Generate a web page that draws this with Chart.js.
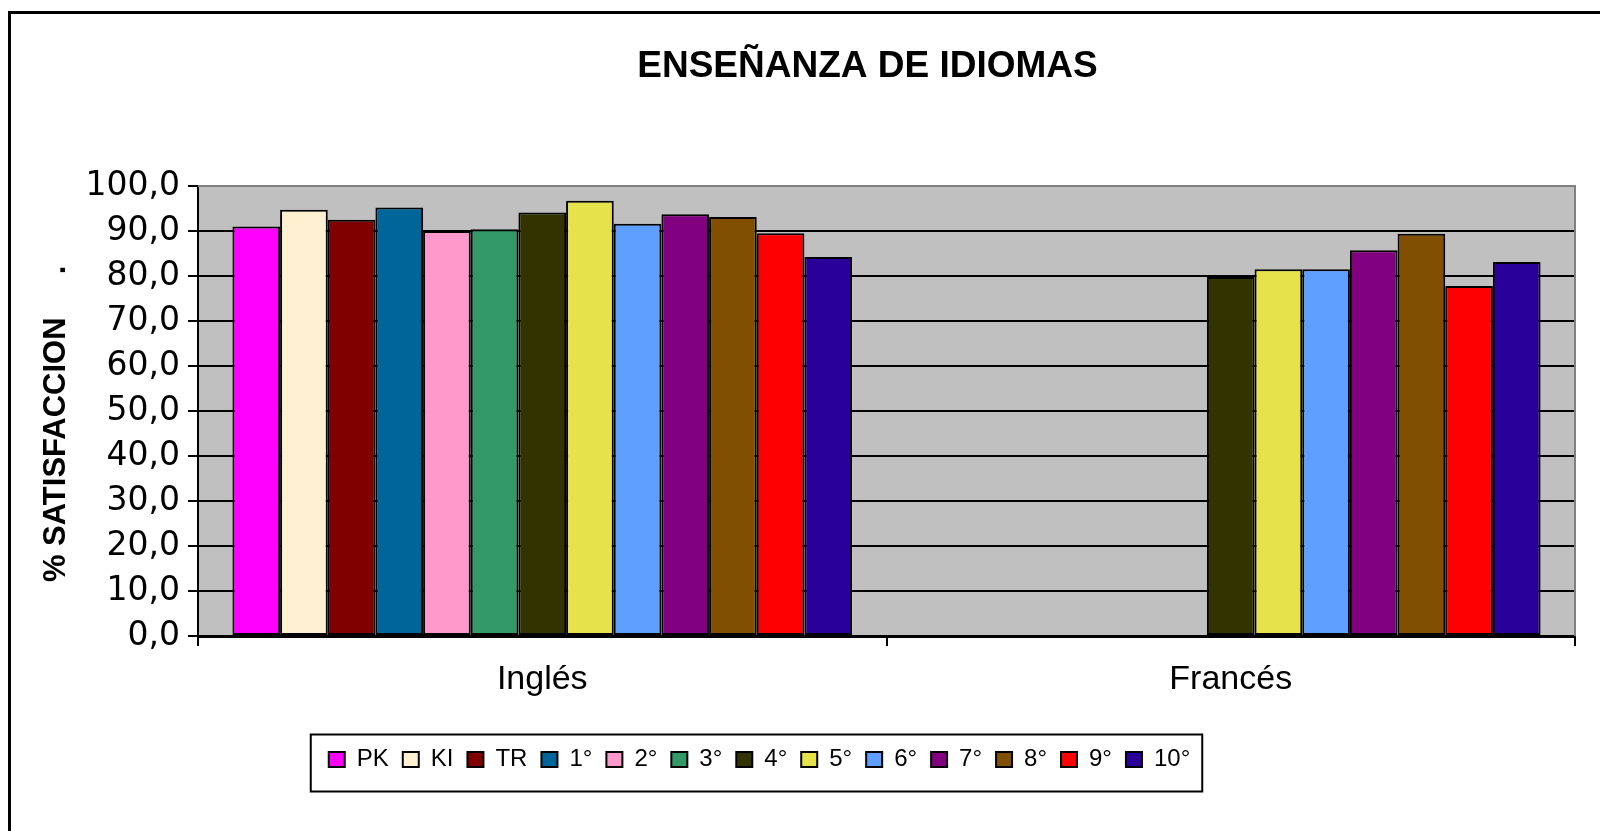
<!DOCTYPE html>
<html lang="es">
<head>
  <meta charset="UTF-8" />
  <title>Enseñanza de idiomas</title>
  <script src="https://cdn.jsdelivr.net/npm/chart.js"></script>
  <style>
    html, body {
      margin: 0;
      padding: 0;
      background: #ffffff;
      overflow: hidden;
    }

    .frame {
      position: absolute;
      left: 8px;
      top: 11px;
      width: 1700px;
      height: 900px;
      border: 3px solid #000;
    }

    .chart-box {
      position: absolute;
      left: 0;
      top: 0;
      width: 1600px;
      height: 831px;
    }
  </style>
</head>
<body>

  <div class="frame"></div>
  <div class="chart-box">
    <canvas id="idiomasChart"></canvas>
  </div>

  <script>
    const categories = ['Inglés', 'Francés'];
    const grades = ['PK', 'KI', 'TR', '1°', '2°', '3°', '4°', '5°', '6°', '7°', '8°', '9°', '10°'];

    // % satisfaccion por grado
    const ingles  = [91.0, 94.7, 92.5, 95.2, 90.0, 90.4, 94.1, 96.7, 91.6, 93.7, 93.1, 89.5, 84.2];
    const frances = [null, null, null, null, null, null, 79.8, 81.5, 81.5, 85.7, 89.4, 77.8, 83.1];

    const gradeColors = [
      '#ff00ff', '#fff0d2', '#800000', '#006699', '#ff99cc', '#339966', '#333300',
      '#e6e24c', '#5e9eff', '#800080', '#805000', '#ff0000', '#290099'
    ];

    const yTickLabels = ['0,0', '10,0', '20,0', '30,0', '40,0', '50,0', '60,0', '70,0', '80,0', '90,0', '100,0'];

    const sans = "'Liberation Sans', Arial, sans-serif";

    // grey plot area + its grey top/right edge, like the excel chart
    const plotArea = {
      id: 'plotArea',
      beforeDraw(chart) {
        const { ctx, chartArea: a } = chart;
        ctx.save();
        ctx.fillStyle = '#c0c0c0';
        ctx.fillRect(a.left, a.top, a.right - a.left, a.bottom - a.top);
        ctx.restore();
      },
      afterDatasetsDraw(chart) {
        const { ctx, chartArea: a } = chart;
        ctx.save();
        ctx.strokeStyle = '#808080';
        ctx.lineWidth = 2;
        ctx.beginPath();
        ctx.moveTo(a.left, a.top);
        ctx.lineTo(a.right, a.top);
        ctx.lineTo(a.right, a.bottom);
        ctx.stroke();
        ctx.restore();
      }
    };

    // title and legend are not centred on the same axis in the original
    const offsets = {
      id: 'offsets',
      afterLayout(chart) {
        chart.titleBlock.left += 80;
        chart.titleBlock.right += 80;
        chart.legend.left -= 28;
        chart.legend.right -= 28;
      },
      afterDraw(chart) {
        const lg = chart.legend;
        const p = lg.options.labels.padding;
        const startX = (lg.left + p + lg.right - lg.lineWidths[0]) / 2;
        const w = lg.lineWidths[0] - p;
        const ctx = chart.ctx;
        ctx.save();
        ctx.strokeStyle = '#000';
        ctx.lineWidth = 2;
        ctx.strokeRect(startX - 18, lg.top + 1, w + 30, 57);
        ctx.restore();
      }
    };

    const ctx = document.getElementById('idiomasChart').getContext('2d');

    const idiomasChart = new Chart(ctx, {
      type: 'bar',
      data: {
        labels: categories,
        datasets: grades.map((g, i) => ({
          label: g,
          data: [ingles[i], frances[i]],
          backgroundColor: gradeColors[i],
          borderColor: '#000',
          borderWidth: 2,
          borderSkipped: false,
          categoryPercentage: 0.9,
          barPercentage: 1.0
        }))
      },
      options: {
        responsive: true,
        maintainAspectRatio: false,
        animation: false,
        layout: {
          padding: { left: 0, right: 25, top: 0, bottom: 49.5 }
        },
        plugins: {
          title: {
            display: true,
            text: 'ENSEÑANZA DE IDIOMAS',
            color: '#000',
            font: { family: sans, size: 37, weight: 'bold' },
            padding: { top: 45, bottom: 96.6 }
          },
          legend: {
            position: 'bottom',
            labels: {
              color: '#000',
              font: { family: sans, size: 24 },
              boxWidth: 16,
              boxHeight: 15,
              padding: 14
            }
          },
          tooltip: { enabled: false }
        },
        scales: {
          x: {
            grid: {
              display: true,
              drawOnChartArea: false,
              drawTicks: true,
              tickLength: 10,
              color: '#000',
              lineWidth: 2,
              offset: true
            },
            border: { color: '#000', width: 3 },
            ticks: {
              color: '#000',
              font: { family: sans, size: 34 },
              padding: 13
            },
            afterFit(scale) {
              scale.height = 97.5;
            }
          },
          y: {
            min: 0,
            max: 100,
            ticks: {
              stepSize: 10,
              color: '#000',
              padding: 8,
              font: { family: "'DejaVu Sans', sans-serif", size: 33 },
              callback: (v, i) => yTickLabels[i]
            },
            grid: { color: '#000', lineWidth: 2, tickLength: 10 },
            border: { color: '#000', width: 2 },
            title: {
              display: true,
              text: '% SATISFACCION     .   ',
              color: '#000',
              font: { family: "'Liberation Sans Narrow', " + sans, size: 31, weight: 'bold' },
              padding: { top: 38, bottom: 0 }
            },
            afterFit(scale) {
              scale.width = 198;
            }
          }
        }
      },
      plugins: [plotArea, offsets]
    });
  </script>
</body>
</html>
